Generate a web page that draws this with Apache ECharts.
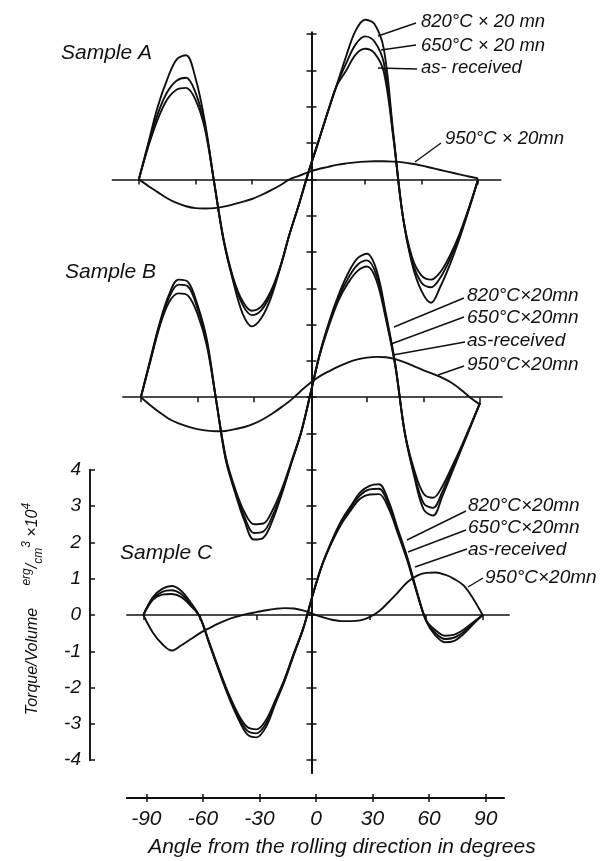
<!DOCTYPE html>
<html>
<head>
<meta charset="utf-8">
<script src="https://cdn.jsdelivr.net/npm/echarts@6/dist/echarts.min.js"></script>
<style>
html,body{margin:0;padding:0;background:#fff;}
#c{width:600px;height:861px;}
</style>
</head>
<body>
<div id="c"></div>
<script>
// ---- data (angle in degrees, torque/volume in erg/cm3 x 10^4) ----
const angles = [-90,-85,-80,-75,-70,-65,-60,-55,-50,-45,-40,-35,-30,-25,-20,-15,-10,-5,0,5,10,15,20,25,30,35,40,45,50,55,60,65,70,75,80,85,90];
const seriesNames = ['820°C × 20 mn','650°C × 20 mn','as-received','950°C × 20 mn'];

const sampleA_820 = [0,1.0,2.0,2.75,3.3,3.42,2.8,1.6,-0.1,-1.7,-2.8,-3.69,-4.05,-3.82,-3.27,-2.44,-1.5,-0.68,0.2,1.0,1.82,2.6,3.4,4.1,4.4,4.28,3.58,1.27,-1.0,-2.34,-3.08,-3.4,-2.95,-2.35,-1.65,-0.85,0];
const sampleA_650 = [0,0.95,1.8,2.4,2.72,2.8,2.4,1.5,-0.1,-1.68,-2.75,-3.45,-3.74,-3.6,-3.15,-2.42,-1.5,-0.68,0.2,1.0,1.82,2.6,3.2,3.72,3.94,3.8,3.2,1.2,-1.0,-2.25,-2.85,-2.97,-2.7,-2.2,-1.58,-0.82,0];
const sampleA_asr = [0,0.9,1.65,2.2,2.47,2.52,2.2,1.4,-0.1,-1.65,-2.7,-3.35,-3.62,-3.5,-3.08,-2.4,-1.5,-0.68,0.2,1.0,1.82,2.58,3.0,3.44,3.6,3.48,2.95,1.15,-1.0,-2.15,-2.65,-2.76,-2.55,-2.1,-1.52,-0.8,0];
const sampleA_950 = [0,-0.18,-0.35,-0.52,-0.65,-0.74,-0.79,-0.8,-0.79,-0.75,-0.69,-0.62,-0.54,-0.43,-0.3,-0.16,0,0.1,0.2,0.28,0.34,0.4,0.44,0.47,0.49,0.5,0.5,0.49,0.47,0.43,0.38,0.32,0.26,0.2,0.14,0.08,0.03];

const sampleB_820 = [0,1.04,2.05,2.83,3.24,3.18,2.55,1.59,-0.1,-1.72,-2.63,-3.41,-3.92,-3.87,-3.37,-2.63,-1.8,-0.98,0.1,1.22,2.1,2.83,3.42,3.83,3.95,3.5,2.3,0.9,-0.98,-2.17,-3.09,-3.26,-2.72,-2.08,-1.44,-0.8,-0.15];
const sampleB_650 = [0,1.0,2.0,2.75,3.1,3.05,2.45,1.5,-0.1,-1.68,-2.58,-3.3,-3.74,-3.7,-3.25,-2.58,-1.78,-0.98,0.1,1.2,2.05,2.75,3.28,3.65,3.77,3.36,2.22,0.88,-0.98,-2.1,-2.92,-3.05,-2.6,-2.0,-1.4,-0.78,-0.15];
const sampleB_asr = [0,0.98,1.95,2.62,2.86,2.8,2.3,1.42,-0.1,-1.64,-2.52,-3.17,-3.5,-3.48,-3.1,-2.5,-1.75,-0.96,0.1,1.18,2.0,2.68,3.15,3.48,3.6,3.22,2.15,0.85,-0.96,-2.0,-2.66,-2.77,-2.45,-1.92,-1.36,-0.76,-0.15];
const sampleB_950 = [0,-0.22,-0.42,-0.6,-0.72,-0.81,-0.88,-0.92,-0.94,-0.93,-0.88,-0.82,-0.73,-0.6,-0.44,-0.26,-0.06,0.18,0.4,0.58,0.72,0.85,0.96,1.04,1.09,1.11,1.1,1.05,0.96,0.85,0.74,0.64,0.53,0.39,0.2,-0.02,-0.2];

const sampleC_820 = [0,0.49,0.72,0.8,0.67,0.35,-0.06,-0.8,-1.53,-2.22,-2.82,-3.28,-3.37,-3.09,-2.45,-1.81,-1.07,-0.34,0.58,1.4,2.05,2.6,3.0,3.38,3.56,3.6,3.15,2.37,1.59,0.67,-0.16,-0.57,-0.75,-0.71,-0.52,-0.25,0];
const sampleC_650 = [0,0.45,0.64,0.68,0.58,0.3,-0.06,-0.78,-1.5,-2.18,-2.76,-3.18,-3.26,-3.0,-2.4,-1.78,-1.05,-0.34,0.58,1.4,2.03,2.56,2.95,3.3,3.46,3.48,3.05,2.3,1.55,0.65,-0.15,-0.5,-0.66,-0.62,-0.46,-0.22,0];
const sampleC_asr = [0,0.42,0.56,0.58,0.5,0.26,-0.06,-0.76,-1.47,-2.14,-2.7,-3.08,-3.15,-2.9,-2.35,-1.75,-1.03,-0.34,0.58,1.4,2.0,2.5,2.88,3.2,3.32,3.33,2.95,2.25,1.5,0.63,-0.14,-0.42,-0.57,-0.54,-0.4,-0.2,0];
const sampleC_950 = [0,-0.48,-0.8,-0.98,-0.84,-0.67,-0.5,-0.36,-0.23,-0.12,-0.04,0.03,0.08,0.13,0.17,0.19,0.18,0.12,0.03,-0.06,-0.13,-0.17,-0.17,-0.15,-0.06,0.1,0.35,0.62,0.9,1.08,1.16,1.17,1.11,0.99,0.81,0.45,0];

const angleTicks = [-90,-60,-30,0,30,60,90];
const panelTicks = [-90,-60,-30,30,60,90];
const centralTicks = [-4,-3,-2,-1,0,1,2,3,4,5,6,7,8,9,10,11,12,13,14,15,16];

const labelsA = ['820°C × 20 mn','650°C × 20 mn','as- received','950°C × 20mn'];
const labelsB = ['820°C×20mn','650°C×20mn','as-received','950°C×20mn'];
const labelsC = ['820°C×20mn','650°C×20mn','as-received','950°C×20mn'];
const sampleTitles = ['Sample A','Sample B','Sample C'];
const xTitle = 'Angle from the rolling direction in degrees';

// ---- layout ----
const INK = '#111';
const FONT = '"Liberation Sans", Arial, sans-serif';
const PX = 1.885;   // px per degree
const U = 36.3;     // px per torque unit
function grid(c, xmin, xmax, zeroY, ymin, ymax) {
  return {left: c + xmin * PX, width: (xmax - xmin) * PX, top: zeroY - ymax * U, height: (ymax - ymin) * U};
}
const panelX = [[308.5,-104,102],[310.5,-99.5,101.6],[313,-98.7,104]];

const grids = [
  grid(308.5, -104, 102, 179.4, -4.6, 4.6),    // 0 sample A
  grid(310.5, -99.5, 101.6, 397.2, -4.6, 4.6), // 1 sample B
  grid(313, -98.7, 104, 615, -4, 4),           // 2 sample C
  grid(311.5, -100, 100, 615, -4.35, 16.05),   // 3 central axis (left ticks)
  grid(316, -100.3, 99.7, 798, 0, 0.5),        // 4 bottom axis (labels)
  grid(311.5, -100, 100, 615, -4.35, 16.05),   // 5 central axis (right ticks)
  grid(316, -100.3, 99.7, 798, 0, 0.5)         // 6 bottom axis (upper ticks)
];

function panelXAxis(i) {
  return {
    type: 'value', gridIndex: i, min: panelX[i][1], max: panelX[i][2],
    axisLine: {onZero: true, lineStyle: {color: INK, width: 1.7}},
    axisTick: {show: true, length: 5, customValues: panelTicks, lineStyle: {color: INK, width: 1.5}},
    axisLabel: {show: false}, splitLine: {show: false}
  };
}
const hiddenX = (i) => ({type: 'value', gridIndex: i, min: -100, max: 100, show: false, splitLine: {show: false}});
const hiddenY = (i, mn, mx) => ({type: 'value', gridIndex: i, min: mn, max: mx, show: false, splitLine: {show: false}});
const centralY = (i, inside) => ({
  type: 'value', gridIndex: i, min: -4.35, max: 16.05,
  axisLine: {show: true, onZero: true, lineStyle: {color: INK, width: 1.9}},
  axisTick: {show: true, inside: inside, length: 5, customValues: centralTicks, lineStyle: {color: INK, width: 1.5}},
  axisLabel: {show: false}, splitLine: {show: false}
});

const xAxes = [
  panelXAxis(0), panelXAxis(1), panelXAxis(2),
  hiddenX(3),
  {
    type: 'value', gridIndex: 4, min: -100.3, max: 99.7, position: 'bottom',
    axisLine: {onZero: false, lineStyle: {color: INK, width: 1.9}},
    axisTick: {show: true, length: 4, customValues: angleTicks, lineStyle: {color: INK, width: 1.5}},
    axisLabel: {show: true, customValues: angleTicks, margin: 11, color: INK, fontSize: 21, fontStyle: 'italic', fontFamily: FONT},
    splitLine: {show: false},
    name: xTitle, nameLocation: 'middle', nameGap: 39,
    nameTextStyle: {color: INK, fontSize: 21, fontStyle: 'italic', fontFamily: FONT, padding: [0, 0, 0, 53]}
  },
  hiddenX(5),
  {
    type: 'value', gridIndex: 6, min: -100.3, max: 99.7, position: 'bottom',
    axisLine: {onZero: false, lineStyle: {color: INK, width: 1.9}},
    axisTick: {show: true, inside: true, length: 4, customValues: angleTicks, lineStyle: {color: INK, width: 1.5}},
    axisLabel: {show: false}, splitLine: {show: false}
  }
];

const yAxes = [
  hiddenY(0, -4.6, 4.6),
  hiddenY(1, -4.6, 4.6),
  {
    type: 'value', gridIndex: 2, min: -4, max: 4, interval: 1, position: 'left',
    offset: grids[2].left - 90,
    axisLine: {show: true, onZero: false, lineStyle: {color: INK, width: 1.9}},
    axisTick: {show: true, inside: true, length: 5, lineStyle: {color: INK, width: 1.5}},
    axisLabel: {show: true, margin: 9, color: INK, fontSize: 19, fontStyle: 'italic', fontFamily: FONT},
    splitLine: {show: false},
    name: 'Torque/Volume     {u|erg}/{d|cm}{u|3} ×10{u|4}',
    nameLocation: 'middle', nameRotate: 90, nameGap: 45,
    nameTextStyle: {
      color: INK, fontSize: 16, fontStyle: 'italic', fontFamily: FONT, lineHeight: 24,
      padding: [0, 0, 0, 12],
      rich: {
        u: {fontSize: 12, fontStyle: 'italic', fontFamily: FONT, color: INK, verticalAlign: 'top', lineHeight: 24},
        d: {fontSize: 12, fontStyle: 'italic', fontFamily: FONT, color: INK, verticalAlign: 'bottom', lineHeight: 24}
      }
    }
  },
  centralY(3, false),
  hiddenY(4, 0, 0.5),
  centralY(5, true),
  hiddenY(6, 0, 0.5)
];

const panels = [
  [sampleA_820, sampleA_650, sampleA_asr, sampleA_950],
  [sampleB_820, sampleB_650, sampleB_asr, sampleB_950],
  [sampleC_820, sampleC_650, sampleC_asr, sampleC_950]
];
const series = [];
panels.forEach((arrs, p) => {
  arrs.forEach((vals, k) => {
    series.push({
      type: 'line', name: sampleTitles[p] + ' ' + seriesNames[k],
      xAxisIndex: p, yAxisIndex: p,
      data: angles.map((a, i) => [a, vals[i]]),
      smooth: 0.35, showSymbol: false, symbol: 'none', clip: false,
      lineStyle: {color: INK, width: 1.9}, silent: true
    });
  });
});

// ---- annotation text & leader lines ----
const txt = (s, x, y, size) => ({type: 'text', x: x, y: y, silent: true,
  style: {text: s, fill: INK, font: 'italic ' + size + 'px ' + FONT, textVerticalAlign: 'middle', verticalAlign: 'middle'}});
const ln = (x1, y1, x2, y2) => ({type: 'line', silent: true, shape: {x1, y1, x2, y2}, style: {stroke: INK, lineWidth: 1.4}});

const graphics = [
  txt(sampleTitles[0], 61, 53, 21),
  txt(sampleTitles[1], 65, 272, 21),
  txt(sampleTitles[2], 120, 553, 21),
  txt(labelsA[0], 421, 22, 18.5), txt(labelsA[1], 421, 46, 18.5), txt(labelsA[2], 421, 68, 18.5), txt(labelsA[3], 445, 139, 18.5),
  ln(416, 23, 378, 36), ln(416, 45, 381, 50), ln(417, 69, 378, 68), ln(441, 143, 415, 162),
  txt(labelsB[0], 467, 296, 19), txt(labelsB[1], 467, 318, 19), txt(labelsB[2], 467, 341, 19), txt(labelsB[3], 467, 365, 19),
  ln(464, 298, 394, 327), ln(464, 317, 391, 344), ln(465, 342, 393, 355), ln(464, 366, 438, 375),
  txt(labelsC[0], 468, 506, 19), txt(labelsC[1], 468, 528, 19), txt(labelsC[2], 468, 550, 19), txt(labelsC[3], 485, 578, 19),
  ln(466, 511, 407, 540), ln(466, 530, 408, 552), ln(467, 549, 415, 567), ln(483, 578, 468, 587)
];

const chart = echarts.init(document.getElementById('c'), null, {renderer: 'canvas'});
chart.setOption({
  animation: false,
  backgroundColor: '#fff',
  grid: grids,
  xAxis: xAxes,
  yAxis: yAxes,
  series: series,
  graphic: graphics
});
</script>
</body>
</html>
